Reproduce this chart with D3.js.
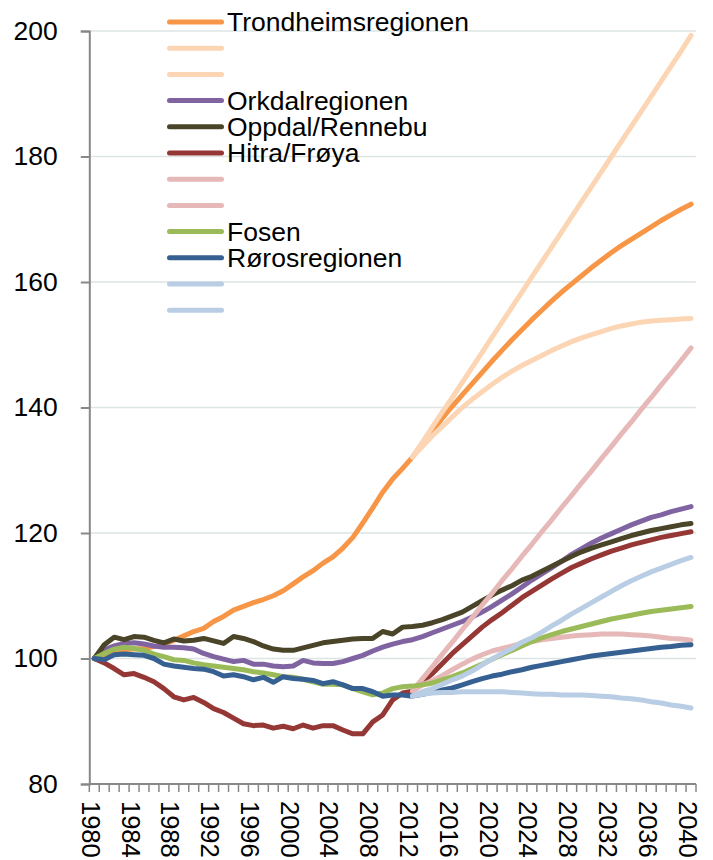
<!DOCTYPE html>
<html><head><meta charset="utf-8">
<script src="https://cdn.jsdelivr.net/npm/d3@7"></script>
<style>html,body{margin:0;padding:0;background:#fff;}svg{display:block;}</style>
</head><body>
<svg id="chart" width="713" height="860"></svg>
<script>
// ---- data ----
const years = d3.range(1980, 2041);
const projYears = d3.range(2012, 2041);
const xTickLabels = d3.range(1980, 2041, 4);
const yTicks = [80, 100, 120, 140, 160, 180, 200];

const trondheim = [100,100.6,101.1,101.4,101.5,101.6,101.9,102.3,102.9,103.6,104.3,104.8,105.9,106.7,107.7,108.3,108.9,109.4,110.0,110.8,111.9,113.0,114.0,115.2,116.2,117.6,119.3,121.6,124.0,126.5,128.6,130.3,132.1,
  134.3,136.3,138.3,140.2,142.0,143.8,145.6,147.4,149.1,150.8,152.4,154.0,155.5,157.0,158.4,159.7,161.0,162.3,163.5,164.7,165.8,166.8,167.8,168.8,169.8,170.7,171.6,172.4];
const trondheimHigh = [132.1,134.5,136.9,139.3,141.6,144.0,146.4,148.8,151.2,153.6,156.0,158.4,160.8,163.2,165.6,168.0,170.4,172.8,175.2,177.6,180.0,182.4,184.8,187.2,189.6,192.0,194.4,196.8,199.3];
const trondheimLow = [132.1,133.8,135.5,137.0,138.5,140.0,141.3,142.5,143.7,144.8,145.8,146.7,147.5,148.3,149.1,149.8,150.5,151.1,151.6,152.1,152.6,153.0,153.3,153.6,153.8,153.9,154.0,154.1,154.2];
const orkdal = [100,101.4,102.0,102.4,102.5,102.3,102.0,101.8,101.8,101.7,101.5,100.8,100.3,99.9,99.5,99.7,99.1,99.1,98.8,98.7,98.8,99.7,99.3,99.2,99.2,99.5,100.0,100.5,101.2,101.8,102.3,102.7,103.0,
  103.5,104.1,104.7,105.3,105.9,106.6,107.4,108.3,109.3,110.3,111.4,112.5,113.5,114.5,115.5,116.6,117.5,118.4,119.2,119.9,120.6,121.3,121.9,122.5,122.9,123.4,123.8,124.2];
const oppdal = [100,102.2,103.4,103.0,103.5,103.4,102.9,102.5,103.1,102.8,102.9,103.2,102.8,102.4,103.5,103.2,102.7,102.0,101.5,101.3,101.3,101.7,102.1,102.5,102.7,102.9,103.1,103.2,103.2,104.3,103.9,105.0,105.1,
  105.3,105.7,106.2,106.8,107.4,108.3,109.2,110.1,110.9,111.6,112.5,113.1,113.9,114.7,115.5,116.3,117.0,117.6,118.1,118.6,119.1,119.6,120.0,120.4,120.7,121.0,121.3,121.5];
const hitra = [100,99.3,98.4,97.4,97.6,97.0,96.3,95.2,93.9,93.4,93.8,93.0,92.0,91.4,90.5,89.6,89.3,89.4,88.9,89.2,88.8,89.4,88.9,89.3,89.3,88.6,88.0,88.0,89.9,91.0,93.4,94.5,94.8,
  96.3,97.6,99.2,100.8,102.2,103.6,105.0,106.2,107.3,108.5,109.7,110.7,111.7,112.7,113.6,114.5,115.2,115.9,116.5,117.1,117.6,118.1,118.5,118.9,119.3,119.6,119.9,120.2];
const hitraHigh = [94.8,96.8,98.7,100.7,102.6,104.6,106.5,108.5,110.4,112.4,114.3,116.3,118.2,120.2,122.1,124.1,126.0,128.0,129.9,131.9,133.8,135.8,137.7,139.7,141.6,143.6,145.5,147.5,149.5];
const hitraLow = [94.8,95.8,96.5,97.3,98.2,99.1,99.9,100.6,101.2,101.6,102.0,102.4,102.7,103.0,103.2,103.4,103.6,103.7,103.8,103.9,103.9,103.9,103.8,103.7,103.6,103.4,103.2,103.1,102.9];
const fosen = [100,100.8,101.5,101.8,101.6,101.3,100.7,100.3,99.8,99.7,99.3,99.0,98.8,98.6,98.4,98.2,97.9,97.7,97.4,97.1,97.0,96.7,96.3,95.9,95.9,95.8,95.2,94.7,94.2,94.5,95.2,95.5,95.6,
  95.8,96.1,96.6,97.1,97.7,98.4,99.1,99.9,100.6,101.3,102.0,102.7,103.3,103.8,104.3,104.7,105.1,105.5,105.9,106.3,106.6,106.9,107.2,107.5,107.7,107.9,108.1,108.3];
const roros = [100,99.8,100.6,100.7,100.6,100.5,100.0,99.1,98.8,98.6,98.4,98.3,97.9,97.2,97.4,97.1,96.6,97.0,96.2,97.1,96.8,96.7,96.5,96.0,96.3,95.8,95.2,95.2,94.7,94.0,94.2,94.2,94.0,
  94.3,94.6,95.0,95.3,95.8,96.3,96.8,97.2,97.5,97.9,98.2,98.6,98.9,99.2,99.5,99.8,100.1,100.4,100.6,100.8,101.0,101.2,101.4,101.6,101.8,101.9,102.1,102.2];
const rorosHigh = [94.0,94.7,95.2,95.9,96.6,97.2,98.0,99.0,99.9,100.8,101.6,102.6,103.3,104.2,105.2,106.1,107.1,108.0,108.9,109.8,110.7,111.6,112.4,113.1,113.8,114.4,115.0,115.6,116.1];
const rorosLow = [94.0,94.3,94.5,94.6,94.6,94.7,94.7,94.7,94.7,94.7,94.6,94.5,94.4,94.3,94.3,94.2,94.2,94.2,94.1,94.0,93.9,93.7,93.6,93.4,93.1,92.9,92.6,92.4,92.1];

const seriesNames = ["Trondheimsregionen","","","Orkdalregionen","Oppdal/Rennebu","Hitra/Frøya","","","Fosen","Rørosregionen","",""];
const seriesColors = ["#F79646","#FCD5B5","#FCD5B5","#8064A2","#4A4529","#953735","#E6B9B8","#E6B9B8","#9BBB59","#376092","#B9CDE5","#B9CDE5"];
const seriesValues = [trondheim,trondheimHigh,trondheimLow,orkdal,oppdal,hitra,hitraHigh,hitraLow,fosen,roros,rorosHigh,rorosLow];

// ---- layout ----
const svg = d3.select("#chart");
const plotLeft = 89.3, plotRight = 696, plotTop = 31, plotBottom = 784;
const font = "'Liberation Sans', Arial, Helvetica, sans-serif";
const axisColor = "#888888", gridColor = "#DDE4E4";

const x = d3.scaleBand().domain(years).range([plotLeft, plotRight]).padding(0);
const xc = yr => x(yr) + x.bandwidth() / 2;
const y = d3.scaleLinear().domain([80, 200]).range([plotBottom, plotTop]);

// gridlines
svg.append("g").selectAll("line").data(yTicks.filter(t => t > 80)).join("line")
  .attr("x1", plotLeft).attr("x2", plotRight)
  .attr("y1", d => y(d)).attr("y2", d => y(d))
  .attr("stroke", gridColor).attr("stroke-width", 1.5);

// y axis
const yAxis = svg.append("g").attr("transform", `translate(${plotLeft},0)`)
  .call(d3.axisLeft(y).tickValues(yTicks).tickSize(8.5).tickPadding(23).tickFormat(d3.format("d")));
yAxis.select(".domain").attr("stroke", axisColor).attr("stroke-width", 2);
yAxis.selectAll(".tick line").attr("stroke", axisColor).attr("stroke-width", 2);
yAxis.selectAll(".tick text").attr("font-family", font).attr("font-size", 26.5).attr("fill", "#000");

// x axis (ticks between categories)
const boundaries = years.map(yr => x(yr)).concat([plotRight]);
const xg = svg.append("g");
xg.append("line").attr("x1", plotLeft).attr("x2", plotRight).attr("y1", plotBottom).attr("y2", plotBottom)
  .attr("stroke", axisColor).attr("stroke-width", 2);
xg.selectAll("line.tk").data(boundaries).join("line").attr("class", "tk")
  .attr("x1", d => d).attr("x2", d => d).attr("y1", plotBottom).attr("y2", plotBottom + 8)
  .attr("stroke", axisColor).attr("stroke-width", 1.5);
xg.selectAll("text").data(xTickLabels).join("text")
  .attr("transform", d => `translate(${xc(d) - 3.5},${plotBottom + 17}) rotate(90)`)
  .attr("text-anchor", "start").attr("dominant-baseline", "central")
  .attr("font-family", font).attr("font-size", 25.5).attr("fill", "#000")
  .text(d => d);

// lines
const line = d3.line().x(d => xc(d[0])).y(d => y(d[1]));
const gLines = svg.append("g");
seriesValues.forEach((vals, i) => {
  const yrs = vals.length === years.length ? years : projYears;
  gLines.append("path")
    .datum(yrs.map((yr, j) => [yr, vals[j]]))
    .attr("d", line)
    .attr("fill", "none")
    .attr("stroke", seriesColors[i])
    .attr("stroke-width", 5)
    .attr("stroke-linecap", "round")
    .attr("stroke-linejoin", "round");
});

// legend
const legend = svg.append("g");
const legY0 = 22, legStep = 26.2;
seriesNames.forEach((name, i) => {
  const ly = legY0 + i * legStep;
  legend.append("line").attr("x1", 169.5).attr("x2", 221.5).attr("y1", ly).attr("y2", ly)
    .attr("stroke", seriesColors[i]).attr("stroke-width", 5).attr("stroke-linecap", "round");
  if (name) {
    legend.append("text").attr("x", 227).attr("y", ly + 9.4)
      .attr("font-family", font).attr("font-size", 26.5).attr("fill", "#000").text(name);
  }
});
</script>
</body></html>
